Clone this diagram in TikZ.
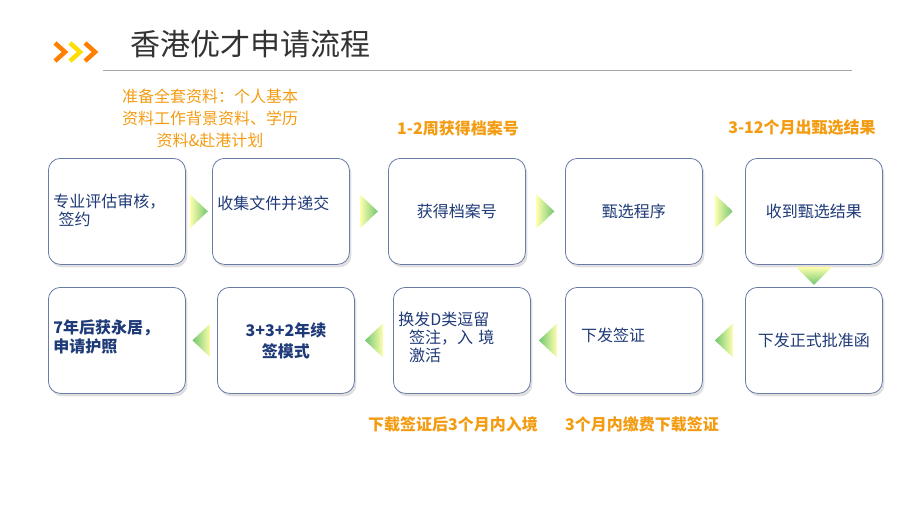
\documentclass[tikz,border=0pt]{standalone}
\usepackage{fontspec}
\setmainfont{Noto Sans CJK SC}
\usetikzlibrary{shadows}
\definecolor{boxtxt}{HTML}{1F3A78}
\definecolor{lab}{HTML}{F39C12}
\definecolor{edge}{HTML}{6A7BA6}
\tikzset{
 box/.style={draw=edge,line width=0.8pt,rounded corners=12pt,fill=white,minimum width=137pt,minimum height=106pt,anchor=north west,inner sep=4pt,text=boxtxt,font=\fontsize{16}{21}\selectfont,drop shadow={shadow xshift=2pt,shadow yshift=-3pt,opacity=0.25}},
 lbl/.style={text=lab,font=\bfseries\fontsize{16}{20}\selectfont,align=center},
 tri/.style={left color=yellow!40!white,right color=green!60!black!70,draw=none,opacity=0.8},
}
\begin{document}
\begin{tikzpicture}[x=1pt,y=-1pt]
\useasboundingbox (0,0) rectangle (900,509);
% header
\foreach \x/\c in {55/orange,70/{yellow!80!orange},85/orange}{
 \draw[\c,line width=4.5pt] (\x,43) -- (\x+10,52) -- (\x,61);}
\draw[gray!70,line width=1pt] (103,70) -- (852,70);
\node[anchor=west,font=\fontsize{30}{34}\selectfont,text=black!80] (title) at (127,44) {香港优才申请流程};
% row 1
\node[box,text width=127pt,align=left] (a1) at (48,158) {\raisebox{4pt}{\shortstack[l]{专业评估审核，\\\ 签约}}};
\node[box,text width=127pt,align=left] (a2) at (212,158) {\raisebox{18pt}{收集文件并递交}};
\node[box,align=center] (a3) at (388,158) {获得档案号};
\node[box,align=center] (a4) at (565,158) {甄选程序};
\node[box,align=center] (a5) at (745,158) {收到甄选结果};
% row 2
\node[box,text width=127pt,align=left,font=\bfseries\fontsize{16}{21}\selectfont] (b1) at (48,287) {\raisebox{8pt}{\shortstack[l]{7年后获永居，\\申请护照}}};
\node[box,align=center,font=\bfseries\fontsize{16}{21}\selectfont] (b2) at (217,287) {3+3+2年续\\签模式};
\node[box,align=left,text width=127pt] (b3) at (393,287) {\raisebox{8pt}{\shortstack[l]{换发D类逗留\\\ \ 签注，入 境\\\ \ 激活}}};
\node[box,text width=127pt,align=left] (b4) at (565,287) {\raisebox{12pt}{\ \ 下发签证}};
\node[box,align=center] (b5) at (745,287) {下发正式批准函};
% arrows
\foreach \p/\q in {a1/a2,a2/a3,a3/a4,a4/a5}{
 \path (\p.east) -- (\q.west) coordinate[pos=0.5] (m\p);
 \shade[tri] ([xshift=-9pt,yshift=-17pt]m\p) -- ([xshift=9pt]m\p) -- ([xshift=-9pt,yshift=17pt]m\p) -- cycle;}
\foreach \p/\q in {b2/b1,b3/b2,b4/b3,b5/b4}{
 \path (\p.west) -- (\q.east) coordinate[pos=0.5] (m\p);
 \shade[tri,left color=green!60!black!70,right color=yellow!40!white] ([xshift=9pt,yshift=-17pt]m\p) -- ([xshift=-9pt]m\p) -- ([xshift=9pt,yshift=17pt]m\p) -- cycle;}
\path (a5.south) -- (b5.north) coordinate[pos=0.5] (md);
\shade[tri,top color=yellow!40!white,bottom color=green!60!black!70] ([xshift=-18pt,yshift=9pt]md) -- ([xshift=18pt,yshift=9pt]md) -- ([yshift=-9pt]md) -- cycle;
% labels
\node[lbl,font=\fontsize{16}{22}\selectfont] (l1) at (210,118) {准备全套资料：个人基本\\资料工作背景资料、学历\\资料\&赴港计划};
\node[lbl] (l2) at (458,128) {1-2周获得档案号};
\node[lbl] (l3) at (802,128) {3-12个月出甄选结果};
\node[lbl] (l4) at (453,424) {下载签证后3个月内入境};
\node[lbl] (l5) at (642,424) {3个月内缴费下载签证};
\end{tikzpicture}
\end{document}
